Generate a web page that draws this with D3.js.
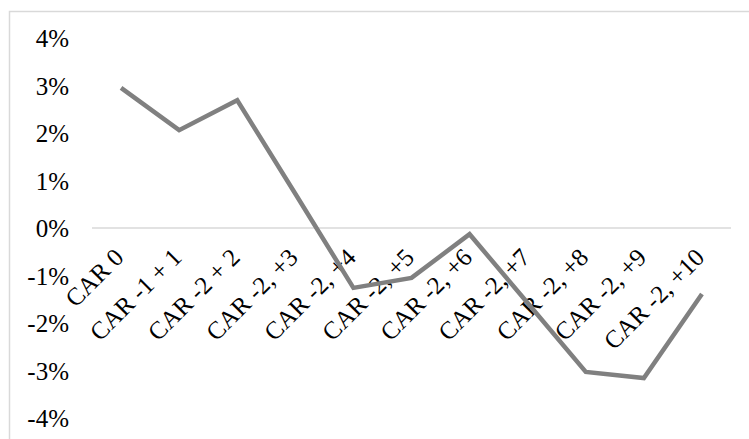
<!DOCTYPE html>
<html>
<head>
<meta charset="utf-8">
<script src="https://cdn.jsdelivr.net/npm/d3@7"></script>
<style>
  html, body { margin: 0; padding: 0; background: #fff; }
  svg { display: block; }
  text { font-family: "Liberation Serif", "Times New Roman", serif; fill: #000; }
</style>
</head>
<body>
<svg id="chart" width="749" height="439"></svg>
<script>
// Cumulative abnormal return windows
const categories = ["CAR 0", "CAR -1 + 1", "CAR -2 + 2", "CAR -2, +3", "CAR -2, +4",
  "CAR -2, +5", "CAR -2, +6", "CAR -2, +7", "CAR -2, +8", "CAR -2, +9", "CAR -2, +10"];
const carValues = [0.0295, 0.0206, 0.0269, 0.0072, -0.0126, -0.0105, -0.0013, -0.0158, -0.0303, -0.0316, -0.0139];
const yTicks = [0.04, 0.03, 0.02, 0.01, 0, -0.01, -0.02, -0.03, -0.04];

const svg = d3.select("#chart");
const W = 749, H = 439;
const fontFamily = "'Liberation Serif', 'Times New Roman', serif";

// chart frame
svg.append("rect")
  .attr("x", 9.5).attr("y", 11.5)
  .attr("width", W + 10).attr("height", H + 10)
  .attr("fill", "#fff").attr("stroke", "#d9d9d9").attr("stroke-width", 1.5);

const plot = { left: 92, right: 731, top: 38, bottom: 418 };

const x = d3.scaleBand().domain(categories).range([plot.left, plot.right]);
const y = d3.scaleLinear().domain([-0.04, 0.04]).range([plot.bottom, plot.top]);

// zero line
svg.append("line")
  .attr("x1", plot.left).attr("x2", plot.right)
  .attr("y1", y(0)).attr("y2", y(0))
  .attr("stroke", "#d9d9d9").attr("stroke-width", 1.5);

// y axis labels (plain hyphen for negatives)
const pct = v => `${Math.round(v * 100)}%`;
const yAxis = d3.axisLeft(y).tickValues(yTicks).tickFormat(pct).tickSize(0).tickPadding(0);
const gy = svg.append("g").attr("transform", `translate(69,0)`).call(yAxis);
gy.select(".domain").remove();
gy.selectAll("text")
  .style("font-family", fontFamily)
  .style("font-size", "25px").attr("fill", "#000").attr("dy", "0.35em");

// category labels, rotated
const xAxis = d3.axisBottom(x).tickSize(0).tickPadding(0);
const gx = svg.append("g").attr("transform", `translate(0,${y(0)})`).call(xAxis);
gx.select(".domain").remove();
gx.selectAll("text")
  .style("font-family", fontFamily)
  .style("font-size", "25px").attr("fill", "#000")
  .attr("text-anchor", "end")
  .attr("dy", null).attr("y", null)
  .attr("transform", "translate(4,31) rotate(-45)");

// CAR line
const line = d3.line()
  .x((d, i) => x(categories[i]) + x.bandwidth() / 2)
  .y(d => y(d));

svg.append("path")
  .datum(carValues)
  .attr("d", line)
  .attr("fill", "none")
  .attr("stroke", "#808080")
  .attr("stroke-width", 4.5)
  .attr("stroke-linejoin", "miter");
</script>
</body>
</html>
